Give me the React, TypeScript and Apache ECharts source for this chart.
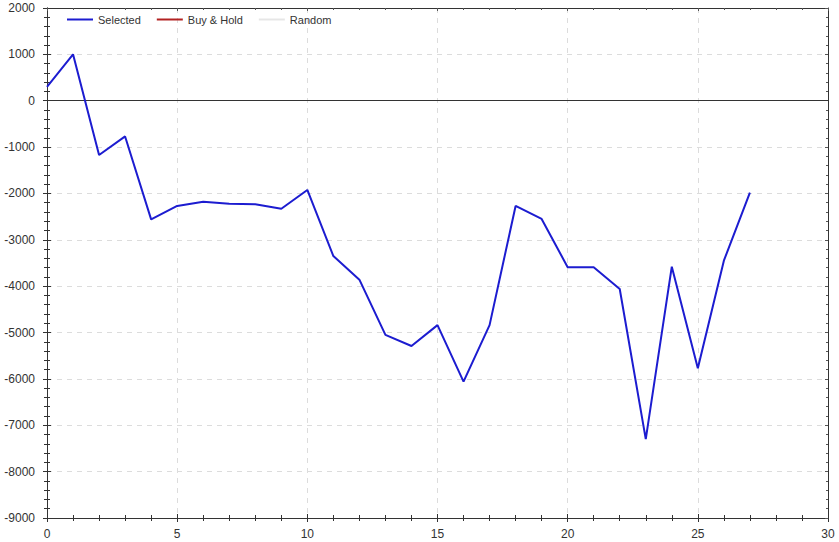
import React, { useEffect, useRef } from "react";
import * as echarts from "echarts";

const xValues = [0, 1, 2, 3, 4, 5, 6, 7, 8, 9, 10, 11, 12, 13, 14, 15, 16, 17, 18, 19, 20, 21, 22, 23, 24, 25, 26, 27];
const selected = [300, 1000, -1170, -770, -2560, -2270, -2180, -2220, -2235, -2330, -1925, -3350, -3860, -5050, -5290, -4840, -6060, -4840, -2270, -2550, -3590, -3590, -4060, -7300, -3580, -5770, -3450, -1980];
const buyHold: number[] = [];
const randomSeries: number[] = [];

const FONT = "Liberation Sans, Arial, sans-serif";

export default function App() {
  const ref = useRef<HTMLDivElement>(null);
  useEffect(() => {
    if (!ref.current) return;
    const chart = echarts.init(ref.current, undefined, { renderer: "svg" });
    const axisLine = { show: true, onZero: false, lineStyle: { color: "#333", width: 1 } };
    const xBase = {
      type: "value" as const,
      min: 0,
      max: 30,
      interval: 5,
      axisLine,
    };
    const yBase = {
      type: "value" as const,
      min: -9000,
      max: 2000,
      interval: 1000,
      axisLine,
    };
    const plain = (v: number) => String(v);
    chart.setOption({
      animation: false,
      textStyle: { fontFamily: FONT },
      grid: { left: 47, right: 11, top: 8, bottom: 24, containLabel: false },
      legend: {
        left: 62,
        top: 9,
        itemWidth: 26,
        itemHeight: 2,
        itemGap: 16,
        icon: "rect",
        textStyle: { fontSize: 11, color: "#333", fontFamily: FONT },
        data: [
          { name: "Selected", itemStyle: { color: "#1c1cd0" } },
          { name: "Buy & Hold", itemStyle: { color: "#b22222" } },
          { name: "Random", itemStyle: { color: "#e6e6e6" } },
        ],
      },
      xAxis: [
        {
          ...xBase,
          position: "bottom",
          axisTick: { show: true, length: 4, lineStyle: { color: "#333" } },
          minorTick: { show: true, splitNumber: 5, length: 3, lineStyle: { color: "#333" } },
          axisLabel: { fontSize: 12, color: "#333", margin: 10, fontFamily: FONT, formatter: plain },
          splitLine: { show: true, lineStyle: { color: "#dcdcdc", type: [5, 5] } },
        },
        {
          ...xBase,
          position: "bottom",
          axisTick: { show: true, inside: true, length: 4, lineStyle: { color: "#333" } },
          minorTick: { show: true, splitNumber: 5, length: 3, lineStyle: { color: "#333" } },
          axisLabel: { show: false },
          splitLine: { show: false },
        },
        {
          ...xBase,
          position: "top",
          axisTick: { show: true, inside: true, length: 3, lineStyle: { color: "#555" } },
          minorTick: { show: true, splitNumber: 5, length: 2, lineStyle: { color: "#555" } },
          axisLabel: { show: false },
          splitLine: { show: false },
        },
      ],
      yAxis: [
        {
          ...yBase,
          position: "left",
          axisTick: { show: true, length: 4, lineStyle: { color: "#333" } },
          minorTick: { show: true, splitNumber: 5, length: 3, lineStyle: { color: "#333" } },
          axisLabel: { fontSize: 12, color: "#333", margin: 12, fontFamily: FONT, formatter: plain },
          splitLine: { show: true, lineStyle: { color: "#dcdcdc", type: [5, 5] } },
        },
        {
          ...yBase,
          position: "left",
          axisTick: { show: true, inside: true, length: 4, lineStyle: { color: "#333" } },
          minorTick: { show: true, splitNumber: 5, length: 3, lineStyle: { color: "#333" } },
          axisLabel: { show: false },
          splitLine: { show: false },
        },
        {
          ...yBase,
          position: "right",
          axisTick: { show: true, inside: true, length: 3, lineStyle: { color: "#555" } },
          minorTick: { show: true, splitNumber: 5, length: 2, lineStyle: { color: "#555" } },
          axisLabel: { show: false },
          splitLine: { show: false },
        },
      ],
      series: [
        {
          name: "Selected",
          type: "line",
          data: xValues.map((x, i) => [x, selected[i]]),
          showSymbol: false,
          symbol: "none",
          lineStyle: { color: "#1c1cd0", width: 2 },
          itemStyle: { color: "#1c1cd0" },
          z: 5,
          markLine: {
            silent: true,
            symbol: "none",
            label: { show: false },
            lineStyle: { color: "#333", width: 1, type: "solid" },
            data: [{ yAxis: 0 }],
          },
        },
        {
          name: "Buy & Hold",
          type: "line",
          data: buyHold,
          symbol: "none",
          lineStyle: { color: "#b22222", width: 2 },
          itemStyle: { color: "#b22222" },
        },
        {
          name: "Random",
          type: "line",
          data: randomSeries,
          symbol: "none",
          lineStyle: { color: "#e6e6e6", width: 2 },
          itemStyle: { color: "#e6e6e6" },
        },
      ],
    });
    return () => chart.dispose();
  }, []);
  return <div ref={ref} style={{ width: 839, height: 542, position: "absolute", left: 0, top: 0, background: "#fff" }} />;
}
